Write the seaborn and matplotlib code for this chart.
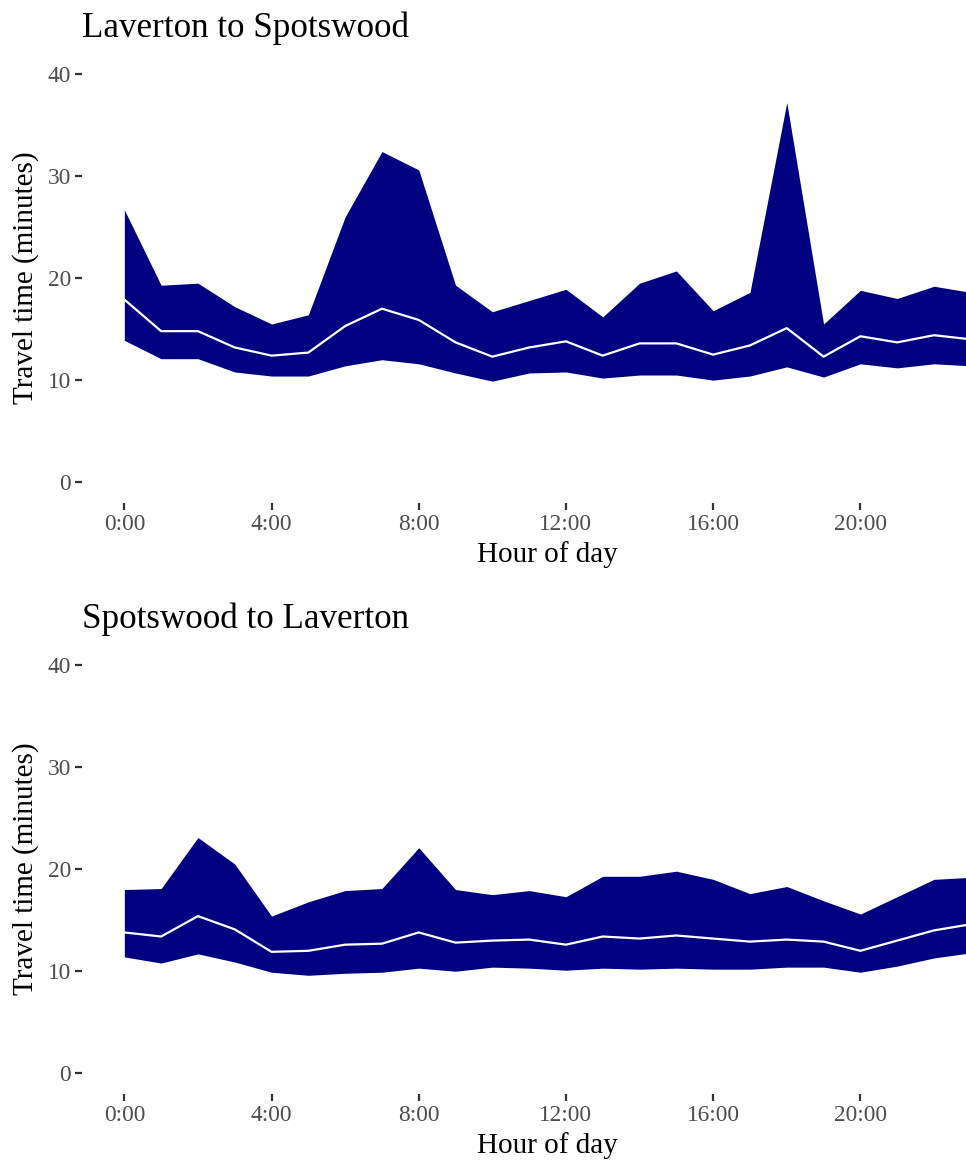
import pandas as pd
import seaborn as sns
import matplotlib.pyplot as plt

hours = list(range(24))
hour_ticks = [0, 4, 8, 12, 16, 20]
hour_labels = ["0:00", "4:00", "8:00", "12:00", "16:00", "20:00"]
minute_ticks = [0, 10, 20, 30, 40]

# Laverton -> Spotswood: low / median / high travel time (minutes)
lav_spot_low = [13.9, 12.1, 12.1, 10.8, 10.4, 10.4, 11.4, 12.0, 11.6, 10.7, 9.9, 10.7,
                10.8, 10.2, 10.5, 10.5, 10.0, 10.4, 11.3, 10.3, 11.6, 11.2, 11.6, 11.4]
lav_spot_med = [17.9, 14.8, 14.8, 13.2, 12.4, 12.7, 15.3, 17.0, 15.9, 13.7, 12.3, 13.2,
                13.8, 12.4, 13.6, 13.6, 12.5, 13.4, 15.1, 12.3, 14.3, 13.7, 14.4, 14.0]
lav_spot_high = [26.7, 19.3, 19.5, 17.2, 15.5, 16.4, 26.0, 32.4, 30.6, 19.3, 16.7, 17.8,
                 18.9, 16.2, 19.5, 20.7, 16.8, 18.6, 37.2, 15.5, 18.8, 18.0, 19.2, 18.6]

# Spotswood -> Laverton
spot_lav_low = [11.4, 10.8, 11.7, 10.9, 9.9, 9.6, 9.8, 9.9, 10.3, 10.0, 10.4, 10.3,
                10.1, 10.3, 10.2, 10.3, 10.2, 10.2, 10.4, 10.4, 9.9, 10.5, 11.3, 11.8]
spot_lav_med = [13.8, 13.4, 15.4, 14.1, 11.9, 12.0, 12.6, 12.7, 13.8, 12.8, 13.0, 13.1,
                12.6, 13.4, 13.2, 13.5, 13.2, 12.9, 13.1, 12.9, 12.0, 13.0, 14.0, 14.6]
spot_lav_high = [18.0, 18.1, 23.1, 20.5, 15.4, 16.8, 17.9, 18.1, 22.1, 18.0, 17.5, 17.9,
                 17.3, 19.3, 19.3, 19.8, 19.0, 17.6, 18.3, 16.9, 15.6, 17.3, 19.0, 19.2]


def draw_panel(ax, title, low, med, high):
    df = pd.DataFrame({"hour": hours, "low": low, "med": med, "high": high})
    ax.fill_between(df["hour"], df["low"], df["high"], color="#000080", linewidth=0)
    sns.lineplot(ax=ax, x="hour", y="med", data=df, color="white", linewidth=1.6)

    ax.set_xlim(-1.15, 22.87)
    ax.set_ylim(-2, 42)
    ax.set_xticks(hour_ticks)
    ax.set_xticklabels(hour_labels)
    ax.set_yticks(minute_ticks)
    for s in ax.spines.values():
        s.set_visible(False)
    ax.tick_params(bottom=True, left=True, colors="#333333", labelcolor="#4D4D4D",
                   length=5, width=1.6, labelsize=16.8, pad=3)
    ax.set_xlabel("Hour of day", fontsize=21, color="black", labelpad=2)
    ax.xaxis.set_label_coords(0.5266, -0.085)
    ax.set_ylabel("Travel time (minutes)", fontsize=21, color="black", labelpad=6)
    ax.set_title(title, loc="left", fontsize=25.2, color="black", pad=12)


def main():
    sns.set_theme(style="white")
    plt.rcParams["font.family"] = ["Liberation Serif", "DejaVu Serif"]

    fig = plt.figure(figsize=(9.66, 11.65), dpi=100)
    ax_top = fig.add_axes([0.0849, 0.5686, 0.9151, 0.3854])
    ax_bot = fig.add_axes([0.0849, 0.0612, 0.9151, 0.3855])

    draw_panel(ax_top, "Laverton to Spotswood", lav_spot_low, lav_spot_med, lav_spot_high)
    draw_panel(ax_bot, "Spotswood to Laverton", spot_lav_low, spot_lav_med, spot_lav_high)

    fig.savefig("out.png", dpi=100)


if __name__ == "__main__":
    main()
